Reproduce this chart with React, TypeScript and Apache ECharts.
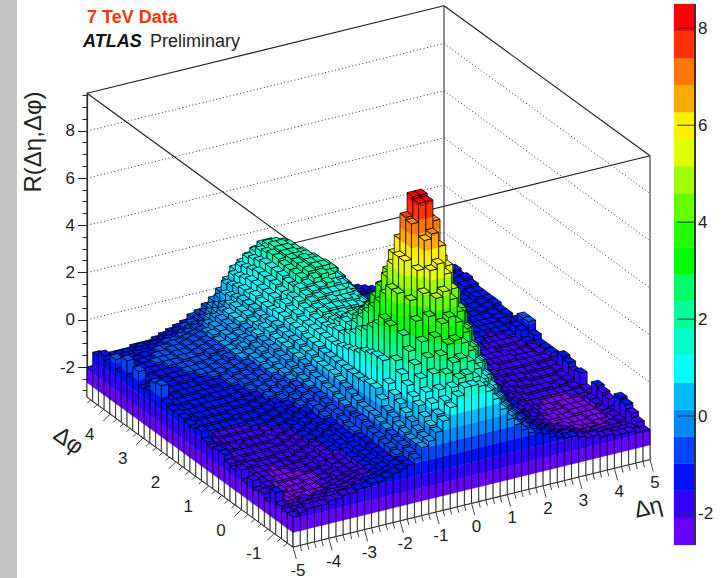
import React, { useEffect, useRef } from "react";
import * as echarts from "echarts";

const FONT = '"Liberation Sans", Arial, sans-serif';

// Colour-scale bands, lowest first
const levelColors = [
  "#6600ff", "#3300ff", "#0011ff", "#0044ff", "#0088ff", "#00bbff", "#00ffff",
  "#00ffcc", "#00ff99", "#00ff66", "#00ff00", "#22ff00", "#66ff00", "#a0ff00",
  "#e0ff00", "#ffee00", "#ffaa00", "#ff7700", "#ff3300", "#ff0000",
];
const zScaleMin = -2.66;
const zScaleMax = 8.5;
const zBoxMin = -3.27;
const zBoxMax = 9.6;

const zTicks = [-2, 0, 2, 4, 6, 8];
const zMinorTicks = [-3, -2.5, -1.5, -1, -0.5, 0.5, 1, 1.5, 2.5, 3, 3.5, 4.5, 5, 5.5, 6.5, 7, 7.5, 8.5, 9, 9.5];
const colorTicks = [-2, 0, 2, 4, 6, 8];
const etaLabels = [-5, -4, -3, -2, -1, 0, 1, 2, 3, 4, 5];
const phiLabels = [-1, 0, 1, 2, 3, 4];

// R(Δη,Δφ) × 10, one row per Δφ bin (36 bins from -π/2), 50 Δη bins (-5..5) in each row
const heightRows = [
[-20,-19,-18,-18,-18,-17,-17,-16,-16,-15,-15,-14,-14,-13,-12,-11,-10,-8,-4,-2,1,5,10,14,17, 17,16,13,9,4,-1,-4,-7,-9,-10,-11,-13,-14,-15,-15,-16,-17,-17,-18,-18,-19,-19,-19,-20,-20],
[-20,-20,-20,-19,-19,-19,-18,-18,-18,-17,-16,-15,-15,-14,-13,-11,-10,-7,-4,-2,2,6,11,16,19, 20,18,15,11,6,2,-2,-6,-8,-10,-12,-13,-15,-16,-16,-17,-18,-19,-19,-19,-20,-20,-20,-20,-18],
[-19,-21,-21,-20,-21,-20,-20,-19,-19,-18,-17,-16,-16,-15,-13,-11,-9,-6,-4,-1,4,9,14,20,24, 25,23,19,14,9,4,0,-4,-7,-10,-12,-14,-15,-17,-18,-18,-19,-20,-21,-20,-21,-21,-21,-21,-16],
[-15,-21,-22,-22,-21,-22,-21,-21,-20,-19,-18,-17,-16,-15,-13,-11,-8,-6,-3,1,7,12,19,26,30, 31,29,25,19,13,8,2,-2,-6,-9,-12,-14,-16,-17,-19,-20,-20,-21,-22,-22,-22,-22,-21,-20,-14],
[-21,-21,-22,-23,-22,-22,-22,-22,-21,-20,-19,-18,-17,-15,-13,-11,-8,-5,-2,3,9,16,24,32,37, 39,36,31,24,17,11,5,0,-5,-8,-11,-14,-16,-18,-19,-20,-21,-22,-22,-23,-23,-22,-22,-20,-13],
[-19,-21,-22,-23,-23,-23,-22,-22,-21,-21,-19,-18,-17,-15,-13,-11,-7,-4,0,5,12,20,29,39,46, 48,44,38,30,22,15,8,2,-4,-8,-11,-14,-16,-18,-20,-21,-22,-22,-23,-23,-23,-22,-22,-21,-20],
[-20,-21,-22,-22,-23,-23,-23,-22,-22,-21,-20,-18,-17,-15,-13,-10,-7,-3,1,7,15,24,36,47,56, 58,53,46,37,28,19,11,4,-3,-7,-11,-14,-16,-18,-20,-21,-22,-23,-23,-23,-23,-22,-22,-21,-17],
[-17,-21,-21,-22,-23,-23,-23,-22,-22,-21,-20,-18,-17,-15,-13,-10,-6,-2,4,10,19,29,43,55,67, 69,63,54,43,32,22,13,5,-3,-7,-11,-14,-16,-18,-19,-21,-22,-22,-23,-23,-22,-22,-22,-20,-16],
[-20,-21,-21,-21,-22,-22,-22,-22,-21,-20,-18,-16,-15,-13,-11,-9,-5,-2,7,18,32,45,58,73,81, 81,72,56,44,33,23,13,4,-3,-6,-10,-12,-14,-17,-18,-20,-21,-22,-23,-23,-22,-22,-22,-20,-15],
[-16,-20,-21,-21,-22,-22,-22,-21,-21,-20,-18,-16,-15,-13,-11,-9,-6,-2,7,18,33,45,58,74,82, 82,72,57,45,34,25,15,7,-1,-5,-9,-12,-14,-16,-18,-20,-21,-22,-22,-23,-22,-22,-22,-21,-20],
[-18,-20,-21,-21,-21,-22,-21,-21,-20,-19,-18,-16,-15,-13,-11,-8,-5,-1,6,17,29,41,53,63,70, 70,64,54,43,32,23,14,6,-1,-5,-9,-12,-14,-17,-18,-20,-21,-21,-22,-22,-22,-22,-21,-21,-20],
[-17,-19,-20,-20,-21,-21,-21,-20,-20,-18,-17,-15,-14,-12,-10,-7,-4,0,6,16,26,36,46,55,58, 58,54,47,38,29,20,12,5,-1,-5,-9,-12,-14,-16,-18,-19,-20,-21,-21,-21,-21,-21,-21,-20,-15],
[-15,-19,-19,-20,-20,-20,-20,-19,-19,-18,-16,-15,-13,-11,-9,-7,-3,1,6,14,23,32,40,46,49, 48,45,39,32,24,17,10,4,-1,-5,-9,-11,-14,-15,-17,-18,-19,-20,-20,-20,-20,-21,-20,-19,-16],
[-15,-18,-19,-19,-19,-19,-19,-19,-18,-17,-16,-14,-12,-11,-8,-6,-2,2,6,13,21,28,34,38,40, 39,37,32,26,19,13,7,2,-2,-6,-9,-11,-13,-15,-16,-18,-18,-19,-19,-20,-20,-20,-20,-19,-14],
[-16,-17,-18,-18,-19,-18,-18,-18,-18,-16,-15,-14,-12,-10,-8,-5,-2,3,6,12,18,24,28,31,32, 31,29,25,20,15,10,5,0,-4,-7,-9,-11,-13,-14,-16,-17,-18,-18,-18,-19,-19,-19,-19,-18,-13],
[-15,-16,-17,-17,-17,-17,-17,-17,-16,-15,-14,-13,-11,-9,-7,-5,-1,3,6,11,16,20,24,26,27, 26,24,21,17,12,7,2,-1,-5,-8,-10,-11,-13,-14,-15,-16,-17,-17,-18,-18,-18,-18,-18,-18,-17],
[-12,-15,-16,-16,-16,-16,-16,-15,-15,-14,-13,-12,-10,-8,-6,-4,-1,3,6,10,14,17,20,22,22, 21,19,17,13,9,4,0,-4,-7,-9,-11,-12,-13,-14,-15,-16,-16,-17,-17,-17,-17,-17,-17,-17,-15],
[-13,-15,-15,-15,-15,-15,-15,-14,-14,-13,-12,-10,-9,-7,-5,-3,0,3,6,10,14,17,19,20,20, 19,18,15,11,7,2,-2,-5,-7,-9,-11,-12,-13,-14,-14,-15,-16,-16,-16,-16,-17,-17,-17,-16,-15],
[-13,-14,-14,-14,-14,-14,-13,-13,-13,-12,-11,-9,-8,-6,-4,-2,1,4,7,10,13,15,16,16,15, 14,13,10,7,3,0,-3,-5,-7,-9,-11,-12,-13,-14,-15,-15,-16,-16,-16,-16,-17,-17,-17,-16,-15],
[-12,-14,-13,-13,-13,-13,-13,-12,-12,-11,-10,-8,-7,-5,-3,-1,2,4,7,10,12,14,15,14,14, 13,12,10,7,4,1,-3,-5,-7,-9,-10,-12,-13,-14,-15,-15,-16,-16,-16,-17,-17,-17,-16,-15,-13],
[-12,-13,-13,-13,-12,-12,-12,-12,-11,-10,-9,-8,-6,-4,-3,0,2,5,7,10,12,13,14,14,13, 13,12,10,7,4,1,-2,-5,-7,-8,-10,-11,-12,-13,-14,-15,-15,-15,-16,-16,-16,-16,-16,-12,-9],
[-12,-13,-13,-12,-12,-12,-11,-11,-11,-10,-8,-7,-6,-4,-2,0,3,5,8,10,12,14,15,15,14, 14,13,11,8,5,1,-2,-4,-6,-8,-10,-11,-12,-13,-14,-15,-15,-15,-15,-16,-16,-16,-15,-12,-9],
[-11,-12,-12,-12,-12,-11,-11,-11,-10,-9,-8,-7,-5,-3,-2,1,3,5,8,10,13,14,15,16,15, 15,14,12,9,5,2,-1,-4,-6,-8,-9,-11,-12,-13,-13,-14,-15,-15,-15,-15,-16,-15,-15,-15,-12],
[-5,-12,-12,-11,-11,-11,-11,-10,-10,-9,-7,-6,-5,-3,-1,1,3,5,8,11,13,15,16,17,17, 17,15,13,10,6,2,-1,-3,-5,-7,-9,-10,-11,-12,-13,-14,-14,-15,-15,-15,-15,-15,-15,-14,-14],
[-6,-11,-11,-11,-11,-11,-10,-10,-9,-8,-7,-6,-4,-3,-1,1,4,6,9,11,14,16,17,18,19, 18,17,14,10,7,3,0,-3,-5,-7,-8,-10,-11,-12,-12,-13,-14,-14,-15,-15,-15,-15,-15,-14,-13],
[-11,-11,-11,-11,-10,-10,-10,-9,-9,-8,-7,-5,-4,-2,0,2,4,6,9,12,14,17,18,20,21, 20,18,15,11,7,4,0,-2,-4,-6,-8,-9,-10,-11,-12,-13,-13,-14,-14,-14,-15,-15,-15,-14,-13],
[-12,-12,-11,-11,-10,-10,-9,-9,-9,-8,-7,-6,-4,-3,-1,1,3,5,8,10,13,16,19,21,22, 22,20,16,12,8,4,1,-2,-4,-6,-8,-9,-10,-11,-12,-12,-13,-13,-14,-14,-15,-15,-14,-13,-12],
[-6,-11,-11,-10,-10,-10,-9,-9,-8,-8,-6,-5,-4,-2,-1,1,3,5,8,11,13,16,19,21,22, 22,20,17,13,8,4,1,-2,-4,-6,-8,-9,-10,-11,-12,-12,-13,-13,-13,-14,-14,-15,-14,-13,-12],
[-11,-12,-10,-10,-10,-9,-9,-8,-8,-7,-6,-5,-4,-2,0,2,4,6,8,11,14,17,19,21,22, 21,19,16,12,8,4,1,-2,-4,-6,-8,-9,-10,-11,-12,-13,-13,-13,-14,-14,-14,-14,-14,-12,-12],
[-5,-11,-10,-10,-9,-9,-9,-8,-8,-7,-6,-5,-3,-2,0,2,4,6,9,11,14,17,19,21,21, 21,19,16,11,7,3,0,-3,-5,-7,-8,-10,-11,-11,-12,-13,-13,-14,-14,-14,-14,-14,-14,-12,-12],
[-12,-11,-11,-10,-10,-9,-9,-8,-8,-7,-6,-5,-4,-2,0,2,4,6,8,11,14,17,20,21,21, 20,18,15,11,7,3,-1,-3,-5,-7,-9,-10,-11,-12,-12,-13,-14,-14,-14,-14,-15,-14,-14,-11,-11],
[-8,-12,-11,-11,-10,-10,-9,-9,-8,-8,-7,-6,-5,-3,-1,1,3,5,8,11,14,17,20,21,21, 20,18,14,10,6,2,-1,-4,-6,-8,-9,-10,-11,-12,-13,-14,-14,-15,-15,-15,-15,-15,-14,-11,-10],
[-12,-13,-12,-12,-11,-11,-10,-10,-9,-9,-8,-7,-6,-5,-3,-1,1,4,7,10,13,16,19,21,21, 20,17,14,10,6,2,-1,-4,-6,-8,-10,-11,-12,-13,-14,-14,-15,-15,-15,-16,-16,-15,-15,-11,-11],
[-10,-14,-13,-13,-13,-12,-12,-11,-11,-10,-10,-9,-8,-7,-5,-3,-1,3,6,9,12,15,18,20,20, 19,16,13,9,5,1,-2,-5,-7,-9,-11,-12,-13,-14,-14,-15,-16,-16,-16,-16,-16,-16,-16,-10,-10],
[-12,-15,-15,-14,-14,-14,-13,-13,-13,-12,-11,-10,-9,-8,-7,-5,-3,0,5,8,11,14,16,18,18, 17,15,11,8,4,0,-3,-5,-8,-10,-12,-13,-14,-15,-15,-16,-16,-17,-17,-17,-17,-17,-16,-12,-11],
[-20,-16,-16,-16,-16,-16,-15,-15,-15,-14,-13,-12,-11,-10,-8,-7,-5,-3,0,4,8,10,12,14,15, 15,13,10,7,4,1,-2,-4,-6,-8,-10,-12,-13,-14,-15,-16,-16,-17,-17,-17,-17,-17,-17,-14,-13],
];

const ETA_MIN = -5, ETA_MAX = 5;
const PHI_MIN = -Math.PI / 2, PHI_MAX = (3 * Math.PI) / 2;
const ETA_BINS = 50, PHI_BINS = 36;
const etaW = (ETA_MAX - ETA_MIN) / ETA_BINS;
const phiW = (PHI_MAX - PHI_MIN) / PHI_BINS;

// Projection of the ROOT box onto the page
const ORIGIN = [293, 547];
const ETA_VEC = [357, -87.5];
const PHI_VEC = [-206, -150];
const Z_PX = 23.6;

function project(eta: number, phi: number, z: number): number[] {
  const u = echarts.number.linearMap(eta, [ETA_MIN, ETA_MAX], [0, 1]);
  const v = echarts.number.linearMap(phi, [PHI_MIN, PHI_MAX], [0, 1]);
  return [
    ORIGIN[0] + ETA_VEC[0] * u + PHI_VEC[0] * v,
    ORIGIN[1] + ETA_VEC[1] * u + PHI_VEC[1] * v - (z - zBoxMin) * Z_PX,
  ];
}

const levelStep = (zScaleMax - zScaleMin) / levelColors.length;
function colorAt(z: number): string {
  const k = Math.floor((z - zScaleMin) / levelStep);
  return levelColors[Math.max(0, Math.min(levelColors.length - 1, k))];
}

const cellValue = (j: number, i: number) =>
  j < 0 || i < 0 ? zBoxMin : (heightRows[j][i] ?? -20) / 10;

// painter's order: far cells first
const cells: number[][] = [];
for (let j = PHI_BINS - 1; j >= 0; j--) {
  for (let i = ETA_BINS - 1; i >= 0; i--) {
    cells.push([
      ETA_MIN + (i + 0.5) * etaW,
      PHI_MIN + (j + 0.5) * phiW,
      cellValue(j, i),
      j,
      i,
    ]);
  }
}

function facePieces(a: number[], b: number[], lo: number, hi: number, z2: number) {
  // a, b = [eta, phi] of the face ends
  const out: any[] = [];
  if (hi <= lo) return out;
  const stops = [lo];
  if (lo < zScaleMin && hi > zScaleMin) stops.push(zScaleMin);
  for (let k = 1; k < levelColors.length; k++) {
    const s = zScaleMin + k * levelStep;
    if (s > lo && s < hi) stops.push(s);
  }
  stops.push(hi);
  for (let s = 0; s < stops.length - 1; s++) {
    const l = stops[s], h = stops[s + 1];
    const fill = h <= zScaleMin + 1e-6 ? "#ffffff" : colorAt((l + h) / 2);
    out.push({
      type: "polygon",
      z2,
      shape: { points: [project(a[0], a[1], l), project(b[0], b[1], l), project(b[0], b[1], h), project(a[0], a[1], h)] },
      style: { fill, stroke: fill, lineWidth: 0.3 },
    });
  }
  out.push({
    type: "polygon",
    z2,
    shape: { points: [project(a[0], a[1], lo), project(b[0], b[1], lo), project(b[0], b[1], hi), project(a[0], a[1], hi)] },
    style: { fill: "none", stroke: "#000", lineWidth: 0.75 },
  });
  return out;
}

function renderCell(params: any, api: any) {
  const eta = api.value(0), phi = api.value(1), z = api.value(2);
  const j = api.value(3), i = api.value(4);
  const z2 = params.dataIndex;
  const e0 = eta - etaW / 2, e1 = eta + etaW / 2;
  const p0 = phi - phiW / 2, p1 = phi + phiW / 2;
  const children: any[] = [];
  const leftFloor = cellValue(j, i - 1);
  const rightFloor = cellValue(j - 1, i);
  children.push(...facePieces([e0, p0], [e0, p1], leftFloor, z, z2));
  children.push(...facePieces([e0, p0], [e1, p0], rightFloor, z, z2));
  children.push({
    type: "polygon",
    z2,
    shape: { points: [project(e0, p0, z), project(e1, p0, z), project(e1, p1, z), project(e0, p1, z)] },
    style: { fill: echarts.color.lift(colorAt(z), -0.18), stroke: "#000", lineWidth: 0.85 },
  });
  return { type: "group", children };
}

function line(a: number[], b: number[], stroke: string, lineWidth: number, dash?: number[]) {
  return {
    type: "line",
    shape: { x1: a[0], y1: a[1], x2: b[0], y2: b[1] },
    style: { stroke, lineWidth, lineDash: dash, fill: "none" },
  };
}
function label(text: string, x: number, y: number, size: number, rot = 0, extra: any = {}) {
  return {
    type: "text",
    x,
    y,
    rotation: rot,
    style: {
      text,
      align: "center",
      verticalAlign: "middle",
      fontSize: size,
      fontFamily: FONT,
      fill: "#222",
      ...extra,
    },
  };
}

function renderFrame() {
  const ch: any[] = [];
  const corners = (z: number) => [
    project(ETA_MIN, PHI_MIN, z),
    project(ETA_MAX, PHI_MIN, z),
    project(ETA_MAX, PHI_MAX, z),
    project(ETA_MIN, PHI_MAX, z),
  ];
  const top = corners(zBoxMax), bot = corners(zBoxMin);
  zTicks.concat([]).forEach((t) => {
    const c = corners(t);
    ch.push(line(c[3], c[2], "#333", 1, [1, 2.5]));
    ch.push(line(c[2], c[1], "#333", 1, [1, 2.5]));
  });
  for (let k = 0; k < 4; k++) {
    ch.push(line(top[k], top[(k + 1) % 4], "#222", 1.2));
    ch.push(line(top[k], bot[k], "#333", 1.1));
  }
  ch.push(line(bot[0], bot[1], "#222", 1.1));
  ch.push(line(bot[0], bot[3], "#222", 1.1));

  // Δη axis ticks
  for (let t = -50; t <= 50; t += 2) {
    const eta = t / 10;
    const p = project(eta, PHI_MIN, zBoxMin);
    const major = t % 10 === 0;
    const f = major ? 1 : 0.5;
    ch.push(line(p, [p[0] + 3.3 * f, p[1] + 12 * f], "#444", 1));
  }
  etaLabels.forEach((e) => {
    const p = project(e, PHI_MIN, zBoxMin);
    ch.push(label(String(e), p[0] + 5, p[1] + 23, 17));
  });
  // Δφ axis ticks
  for (let t = -14; t <= 46; t += 2) {
    const phi = t / 10;
    const p = project(ETA_MIN, phi, zBoxMin);
    const major = t % 10 === 0;
    const f = major ? 1 : 0.5;
    ch.push(line(p, [p[0] - 7 * f, p[1] + 7 * f], "#444", 1));
  }
  phiLabels.forEach((e) => {
    const p = project(ETA_MIN, e, zBoxMin);
    ch.push(label(String(e), p[0] - 20.5, p[1] + 20.5, 17));
  });
  ch.push(label("Δη", 648, 507, 23, 0.24));
  ch.push(label("Δφ", 69, 440, 23, -0.62));
  ch.push(label("R(Δη,Δφ)", 32, 142, 24, Math.PI / 2));
  return { type: "group", children: ch };
}

export default function App() {
  const ref = useRef<HTMLDivElement>(null);
  useEffect(() => {
    if (!ref.current) return;
    const chart = echarts.init(ref.current, undefined, { renderer: "svg" });
    const bands = levelColors.map((c, k) => [zScaleMin + k * levelStep, zScaleMin + (k + 1) * levelStep, k]);
    const axisLine = { show: true, lineStyle: { color: "#222", width: 1.2 } };
    chart.setOption({
      animation: false,
      backgroundColor: "#ffffff",
      grid: [
        { left: 87, top: 93, width: 1, height: 304 },
        { left: 674, top: 4, width: 21, height: 541 },
      ],
      xAxis: [
        { gridIndex: 0, type: "value", min: 0, max: 1, show: false },
        { gridIndex: 1, type: "value", min: 0, max: 1, show: false },
      ],
      yAxis: [
        {
          gridIndex: 0, type: "value", position: "left", min: zBoxMin, max: zBoxMax, splitLine: { show: false },
          axisLine,
          axisTick: { show: true, length: 9, customValues: zTicks, lineStyle: { color: "#222" } },
          axisLabel: { show: true, customValues: zTicks, margin: 12, fontSize: 17, fontFamily: FONT, color: "#222" },
        },
        {
          gridIndex: 0, type: "value", position: "left", offset: 0, min: zBoxMin, max: zBoxMax, splitLine: { show: false },
          axisLine: { show: false },
          axisTick: { show: true, length: 4.5, customValues: zMinorTicks, lineStyle: { color: "#222" } },
          axisLabel: { show: false },
        },
        {
          gridIndex: 1, type: "value", position: "right", min: zScaleMin, max: zScaleMax, splitLine: { show: false },
          axisLine: { show: false },
          axisTick: { show: false },
          axisLabel: { show: true, customValues: colorTicks, margin: 3, fontSize: 17, fontFamily: FONT, color: "#222" },
        },
      ],
      graphic: [
        { type: "rect", z: -1, shape: { x: 0, y: 0, width: 17, height: 578 }, style: { fill: "#c2c2c2" } },
        {
          type: "text", x: 87, y: 17, z: 10,
          style: { text: "7 TeV Data", fontSize: 18, fontWeight: "bold", fontFamily: FONT, fill: "#ff3300", verticalAlign: "middle" },
        },
        {
          type: "text", x: 83, y: 41, z: 10,
          style: { text: "ATLAS", fontSize: 18, fontWeight: "bold", fontStyle: "italic", fontFamily: FONT, fill: "#111", verticalAlign: "middle" },
        },
        {
          type: "text", x: 150, y: 41, z: 10,
          style: { text: "Preliminary", fontSize: 18, fontFamily: FONT, fill: "#222", verticalAlign: "middle" },
        },
        {
          type: "line", z: 10, silent: true,
          shape: { x1: 293, y1: 243, x2: 293, y2: 547 },
          style: { stroke: "rgba(0,0,0,0.35)", lineWidth: 1 },
        },
      ],
      series: [
        {
          type: "custom", name: "frame", coordinateSystem: "none", z: 1, silent: true,
          data: [[0]], renderItem: renderFrame,
        },
        {
          type: "custom", name: "R", coordinateSystem: "none", z: 3, silent: true, progressive: 0,
          data: cells, renderItem: renderCell,
        },
        {
          type: "custom", name: "scale", coordinateSystem: "cartesian2d", xAxisIndex: 1, yAxisIndex: 2, z: 1, silent: true,
          data: bands,
          encode: { y: [0, 1] },
          renderItem: (params: any, api: any) => {
            const a = api.coord([0, api.value(0)]);
            const b = api.coord([1, api.value(1)]);
            const c = levelColors[api.value(2)];
            return {
              type: "rect",
              shape: { x: a[0], y: b[1], width: b[0] - a[0], height: a[1] - b[1] },
              style: { fill: c, stroke: c, lineWidth: 0.3 },
            };
          },
        },
        {
          type: "custom", name: "scaleTicks", coordinateSystem: "cartesian2d", xAxisIndex: 1, yAxisIndex: 2, z: 5, silent: true,
          data: colorTicks.map((t) => [t]),
          encode: { y: 0 },
          renderItem: (params: any, api: any) => {
            const a = api.coord([0.16, api.value(0)]);
            const b = api.coord([1, api.value(0)]);
            const top = api.coord([1, zScaleMax]);
            const bot = api.coord([1, zScaleMin]);
            return {
              type: "group",
              children: [
                { type: "line", shape: { x1: a[0], y1: a[1], x2: b[0], y2: b[1] }, style: { stroke: "#333", lineWidth: 1 } },
                { type: "line", shape: { x1: top[0], y1: top[1], x2: bot[0], y2: bot[1] }, style: { stroke: "#333", lineWidth: 1 } },
              ],
            };
          },
        },
      ],
    });
    return () => chart.dispose();
  }, []);
  return (
    <div
      ref={ref}
      style={{ position: "absolute", left: 0, top: 0, width: 724, height: 578, background: "#fff" }}
    />
  );
}
